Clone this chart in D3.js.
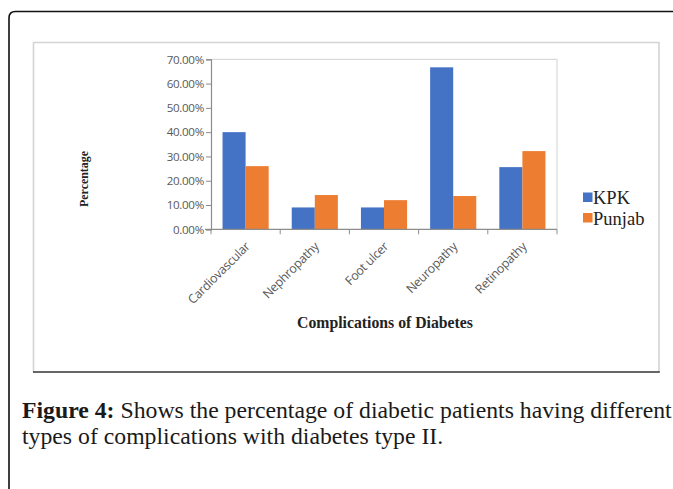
<!DOCTYPE html>
<html>
<head>
<meta charset="utf-8">
<script src="https://cdn.jsdelivr.net/npm/d3@7"></script>
<style>
  html, body { margin: 0; padding: 0; background: #fff; }
  svg { display: block; }
</style>
</head>
<body>
<svg id="chart" width="673" height="489"></svg>
<script>
// Complications of type II diabetes, by province
const categories = ["Cardiovascular", "Nephropathy", "Foot ulcer", "Neuropathy", "Retinopathy"];
const seriesNames = ["KPK", "Punjab"];
const kpkValues = [0.40, 0.09, 0.09, 0.667, 0.256];
const punjabValues = [0.26, 0.141, 0.12, 0.137, 0.322];
const yTicks = [0, 0.1, 0.2, 0.3, 0.4, 0.5, 0.6, 0.7];
const seriesColors = ["#4472C4", "#ED7D31"];

const svg = d3.select("#chart");

// Outer figure frame with a rounded top-left corner
svg.append("path")
  .attr("d", "M9,489 L9,18 Q9,11.5 15.5,11.5 L673,11.5")
  .attr("fill", "none")
  .attr("stroke", "#111")
  .attr("stroke-width", 1.6);

// Chart box
const box = { x: 33.5, y: 42.5, w: 625.5, h: 329.5 };
svg.append("path")
  .attr("d", `M${box.x},${box.y + box.h} L${box.x},${box.y} L${box.x + box.w},${box.y} L${box.x + box.w},${box.y + box.h}`)
  .attr("fill", "none").attr("stroke", "#d4d4d4").attr("stroke-width", 1.6);
svg.append("line")
  .attr("x1", box.x - 0.5).attr("x2", box.x + box.w + 0.8)
  .attr("y1", box.y + box.h).attr("y2", box.y + box.h)
  .attr("stroke", "#333").attr("stroke-width", 1.6);

// Plot area
const plot = { left: 211, right: 557, top: 59.3, bottom: 229.3 };

const x0 = d3.scaleBand()
  .domain(categories)
  .range([plot.left, plot.right])
  .paddingInner(1 / 3)
  .paddingOuter(1 / 6);

const x1 = d3.scaleBand()
  .domain(seriesNames)
  .range([0, x0.bandwidth()]);

const y = d3.scaleLinear()
  .domain([0, 0.7])
  .range([plot.bottom, plot.top]);

const color = d3.scaleOrdinal().domain(seriesNames).range(seriesColors);

// Plot-area border (top and right)
svg.append("path")
  .attr("d", `M${plot.left},${plot.top} L${plot.right},${plot.top} L${plot.right},${plot.bottom}`)
  .attr("fill", "none").attr("stroke", "#d9d9d9").attr("stroke-width", 1.2);

// Bars
const rows = categories.map((c, i) => ({ category: c, values: [kpkValues[i], punjabValues[i]] }));
const groups = svg.append("g").selectAll("g")
  .data(rows).join("g")
  .attr("transform", d => `translate(${x0(d.category)},0)`);
groups.selectAll("rect")
  .data(d => d.values.map((v, j) => ({ key: seriesNames[j], value: v })))
  .join("rect")
  .attr("x", d => x1(d.key))
  .attr("width", x1.bandwidth())
  .attr("y", d => y(d.value))
  .attr("height", d => y(0) - y(d.value))
  .attr("fill", d => color(d.key));

// Y axis
const yAxis = svg.append("g")
  .attr("transform", `translate(${plot.left},0)`)
  .call(d3.axisLeft(y).tickValues(yTicks).tickFormat(d3.format(".2%")).tickSize(5).tickPadding(2));
yAxis.select(".domain").attr("stroke", "#8c8c8c").attr("stroke-width", 1.2);
yAxis.selectAll(".tick line").attr("stroke", "#8c8c8c");
yAxis.selectAll(".tick text")
  .attr("fill", "#595959")
  .style("font-family", "'Open Sans', sans-serif")
  .style("font-size", "11.6px")
  .style("letter-spacing", "-0.3px");

// X axis: ticks at category boundaries
const boundaries = d3.range(categories.length + 1).map(i => plot.left + i * x0.step());
const xAxis = svg.append("g");
xAxis.append("line")
  .attr("x1", plot.left - 6).attr("x2", plot.right)
  .attr("y1", plot.bottom).attr("y2", plot.bottom)
  .attr("stroke", "#8c8c8c").attr("stroke-width", 1.2);
xAxis.selectAll("line.tk")
  .data(boundaries).join("line")
  .attr("class", "tk")
  .attr("x1", d => d).attr("x2", d => d)
  .attr("y1", plot.bottom).attr("y2", plot.bottom + 5)
  .attr("stroke", "#8c8c8c");
xAxis.selectAll("text")
  .data(categories).join("text")
  .attr("transform", d => `translate(${x0(d) + x0.bandwidth() / 2 + 5},${plot.bottom + 18}) rotate(-45)`)
  .attr("text-anchor", "end")
  .attr("fill", "#595959")
  .style("font-family", "'Open Sans', sans-serif")
  .style("font-size", "12.4px")
  .style("letter-spacing", "-0.3px")
  .text(d => d);

// Fit a text element's font size to a target width
function fitWidth(sel, target, base) {
  sel.style("font-size", base + "px");
  const w = sel.node().getComputedTextLength();
  sel.style("font-size", (base * target / w) + "px");
}

// Axis titles
const xTitle = svg.append("text")
  .attr("x", 385).attr("y", 328)
  .attr("text-anchor", "middle")
  .style("font-family", "'Liberation Serif', 'Times New Roman', serif")
  .style("font-weight", "bold")
  .attr("fill", "#222")
  .text("Complications of Diabetes");
fitWidth(xTitle, 176, 16);

const yTitle = svg.append("text")
  .attr("transform", "translate(88,179) rotate(-90)")
  .attr("text-anchor", "middle")
  .style("font-family", "'Liberation Serif', 'Times New Roman', serif")
  .style("font-weight", "bold")
  .attr("fill", "#222")
  .text("Percentage");
fitWidth(yTitle, 56, 12);

// Legend
const legend = svg.append("g").attr("transform", "translate(583,192.5)");
const items = legend.selectAll("g")
  .data(seriesNames).join("g")
  .attr("transform", (d, i) => `translate(0,${i * 20.5})`);
items.append("rect")
  .attr("width", 9.5).attr("height", 9.5)
  .attr("fill", d => color(d));
items.append("text")
  .attr("x", 10).attr("y", 11.5)
  .style("font-family", "'Liberation Serif', 'Times New Roman', serif")
  .style("font-size", "18.5px")
  .attr("fill", "#222")
  .text(d => d);

// Figure caption
const capFont = "'Liberation Serif', 'Times New Roman', serif";
const line1 = svg.append("text")
  .attr("x", 22).attr("y", 418)
  .style("font-family", capFont)
  .attr("fill", "#1a1a1a");
line1.append("tspan").style("font-weight", "bold").text("Figure 4:");
line1.append("tspan").text(" Shows the percentage of diabetic patients having different");
line1.style("font-size", "19px");
const w1 = line1.node().getComputedTextLength();
const capSize = 19 * 650 / w1;
line1.style("font-size", capSize + "px");

svg.append("text")
  .attr("x", 22).attr("y", 444)
  .style("font-family", capFont)
  .style("font-size", capSize + "px")
  .attr("fill", "#1a1a1a")
  .text("types of complications with diabetes type II.");
</script>
</body>
</html>
